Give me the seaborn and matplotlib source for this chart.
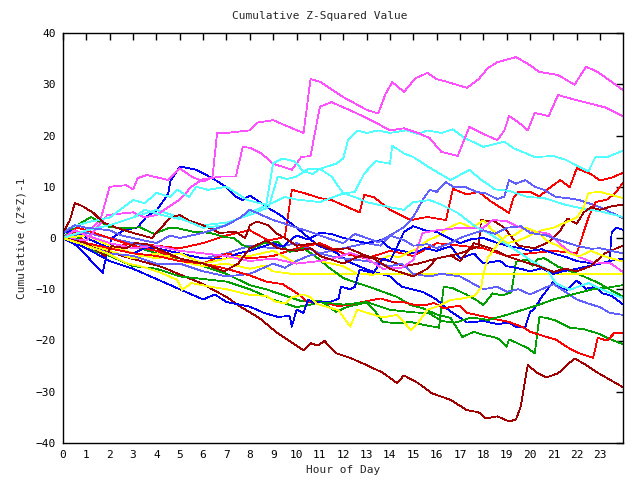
import matplotlib
matplotlib.use("Agg")
import matplotlib.pyplot as plt
import seaborn as sns
import pandas as pd

E = 23.97  # last sample hour

# ---- series: (hour, cumulative value) pairs ----
m1 = [(0,0),(1,1),(1.6,3.5),(2,10),(2.7,10.3),(3,9.5),(3.2,11.7),(3.6,12.3),(4.5,11.3),(5,13.6),(5.5,12),(6,11),(6.4,11.9),(6.6,20.5),(7,20.5),(8,21),(8.3,22.5),(9,23),(9.5,22),(10.3,20.5),(10.6,31),(11,30.5),(11.5,29),(12,27.5),(13,25),(13.5,24.3),(13.8,28),(14.1,30.4),(14.6,28.5),(15.1,31.2),(15.6,32.2),(16,31),(16.5,30.4),(17.3,29.3),(17.8,31),(18.2,33.2),(18.6,34.3),(19.4,35.3),(19.9,34),(20.4,32.4),(21.2,31.8),(21.9,29.9),(22.4,33.4),(22.9,32.4),(E,28.9)]
m2 = [(0,0),(1,-0.5),(1.9,4.5),(3,5),(3.5,4),(4,4.5),(5,7.5),(5.5,10),(6,11.5),(6.8,12),(7.4,12),(7.7,17.8),(8,17.6),(8.5,16.5),(9,14.5),(9.8,13.3),(10.2,15.8),(10.6,16),(11,25.6),(11.5,26.5),(12,25.5),(12.5,24.5),(13.4,22.5),(14,21),(14.6,21.4),(15.2,20.5),(15.7,19.5),(16.2,16.8),(16.9,16),(17.4,21.7),(17.9,20.5),(18.6,19.1),(18.9,21),(19.1,23.8),(19.5,22.6),(19.9,21),(20.2,24.4),(20.8,23.8),(21.2,27.9),(21.9,27),(22.5,26.3),(23.2,25.5),(E,23.8)]
m3 = [(0,0),(0.5,1.5),(1,0.5),(2,-1),(3,-2),(4,-1.5),(5,-2.5),(6,-3),(7,-3.5),(8,-4.5),(9,-4),(10,-5),(11,-4.5),(11.8,-3.7),(12.3,-2.9),(13,-4),(13.7,-6),(14.5,-5.8),(15,-4.3),(15.4,1),(16,1.5),(17,2),(18,2),(18.4,3.5),(19,3.3),(19.5,2.2),(20,1.5),(20.8,0.8),(21.5,-2),(22,-3.5),(22.8,-5),(23.4,-4.8),(E,-6.6)]

c1 = [(0,0),(1,1.5),(2,2.5),(3,4),(4,5.5),(5,4),(6,2.5),(7,3),(8,4.5),(8.8,6),(9.2,12),(9.6,11.5),(10,12),(10.5,13.5),(11,13.5),(11.7,14.5),(12,15.5),(12.2,19.1),(12.6,21),(13,20.5),(13.5,21),(14,20.5),(14.7,21),(15.2,20.3),(15.6,21),(16.2,20.5),(16.7,21.2),(17.2,19.5),(18,17.8),(18.9,18.8),(19.3,17.5),(20.2,15.8),(21,16),(21.5,15.3),(22.5,13),(22.8,15.8),(23.3,15.8),(E,17)]
c2 = [(0,1.5),(1,3),(2,4),(3,7.4),(3.5,6.8),(4,8.8),(4.6,8),(4.9,9.4),(5.4,8),(5.7,10),(6.2,9.4),(7,10),(7.9,7.4),(8.7,6.5),(9,14.6),(9.4,15.5),(9.9,15),(10.3,13),(10.7,12.5),(11,13.5),(11.5,12),(12,8.7),(12.5,9),(12.9,12.6),(13.4,15),(14,14.5),(14.1,18),(14.6,16.5),(15,15.8),(15.6,14),(16.6,11.3),(17.4,13.3),(17.9,11.4),(18.5,9.5),(19.1,9.2),(19.9,8),(20.6,7.8),(21.5,6.5),(22.4,5.6),(23,5.2),(E,4.1)]
c3 = [(0,0),(1,1.5),(2,2.5),(3,4),(3.5,5.5),(4.2,4.5),(5.2,3.5),(6,2),(7,2.5),(8,5),(8.8,6.5),(9.5,8),(10,7.5),(11,7),(12,8.7),(12.5,8),(13,7),(14,6),(14.6,5.5),(15,7),(15.7,7.4),(16.2,6.5),(16.9,4.9),(17.7,2.1),(18.2,1),(18.9,-1),(19.6,-3),(20.1,-4.6),(20.7,-6),(21.1,-8.8),(21.7,-10.1),(22.5,-8.8),(23.3,-10.5),(E,-11.7)]

r1 = [(0,0),(0.5,1),(1,-1),(2,-2),(3,-1),(4,-1.5),(5,-2),(6,-1),(7,0.5),(8,1.5),(8.8,-0.5),(9.5,0.2),(9.8,9.4),(10.3,8.8),(11,7.8),(11.5,7.4),(12.7,5),(12.9,8.4),(13.3,8),(14,5.5),(14.9,3.5),(15.6,4.1),(16.4,3.5),(16.7,9.6),(17.3,8.5),(17.8,9),(18.3,7.2),(19.1,4.9),(19.3,8),(19.5,9),(20,9),(20.4,8.1),(20.9,10),(21.3,11.3),(21.7,9.9),(22,13.6),(22.6,12.5),(23,11.2),(23.5,11.8),(E,12.7)]
r2 = [(0,0),(0.6,2),(1,1.5),(2,0),(3,-1.5),(4,-2.5),(5,-4),(6,-5),(7,-3),(8,-4),(9,-3.5),(10,-2),(11,-1),(12,-3),(13,-4),(14,-2.5),(15,-3.5),(16,-1),(17,-1.5),(18,-2),(19,-3.5),(20,-3),(21,-2.5),(22,-3),(22.5,4),(22.8,7),(23.3,7.5),(23.7,9),(E,10.8)]
r3 = [(0,0),(1,-1),(2,-2),(3,-3),(4,-3.5),(5,-4.5),(6,-5),(7,-6),(8,-7.3),(8.7,-8.5),(9.4,-9),(10.1,-11),(10.5,-12.6),(11,-12.4),(11.8,-13.3),(12.3,-13),(12.7,-12.6),(13.6,-11.8),(14.2,-12.6),(14.5,-12.4),(15,-13),(15.6,-13),(15.9,-12.7),(16.3,-13.7),(17,-13.2),(17.3,-14.6),(17.9,-15.2),(18.6,-15.9),(19.1,-16.4),(19.7,-17.4),(20,-18.3),(20.7,-19.3),(21.1,-19.8),(21.6,-21.3),(22,-22.3),(22.7,-23.4),(22.9,-19.5),(23.3,-20),(23.6,-18.6),(E,-18.6)]

d1 = [(0,0),(1.3,-1.7),(2.7,-3.7),(4.2,-5.6),(5.9,-8.8),(7,-11.5),(7.6,-13.4),(8.4,-15.6),(9.2,-18.6),(10.3,-21.9),(10.6,-20.5),(10.9,-21),(11.2,-20.1),(11.7,-22.5),(12.3,-23.4),(13,-24.8),(13.7,-26.3),(14.3,-28.3),(14.6,-26.8),(15.2,-28.3),(15.8,-30.3),(16.6,-31.6),(17.3,-33.6),(17.8,-34),(18.1,-35.2),(18.6,-34.8),(19.1,-35.8),(19.4,-35.4),(19.6,-32.9),(19.9,-24.8),(20.3,-26.3),(20.7,-27.2),(21.2,-26.4),(21.9,-23.5),(22.3,-24.5),(22.9,-26.3),(23.4,-27.6),(E,-29.1)]
d2 = [(0,1),(0.3,3.5),(0.5,6.8),(0.8,6.3),(1.3,4.9),(1.7,3.1),(2.3,2),(3,1),(3.8,0),(4.3,2.5),(4.6,4),(5,4.5),(5.4,3.4),(6,2.5),(6.7,1),(7.4,1.2),(7.8,0),(8,2.5),(8.3,3.2),(8.8,2.5),(9.1,1),(9.5,0),(10,-1.5),(10.8,-1),(11.5,-2.3),(12.2,-2),(13,-3.5),(14,-4.5),(14.6,-5.5),(15.2,-5),(16,-4),(17,-3),(17.8,-1.6),(17.9,3.5),(18.5,3.2),(18.9,2),(19.5,-1.5),(20.2,-2),(20.8,-0.8),(21.3,1.5),(21.6,3.8),(22,2.8),(22.3,5),(22.6,6),(23,5.5),(23.5,6.2),(E,6.5)]
d3 = [(0,0),(1,-1),(1.8,-3.5),(2.1,-1.6),(2.7,-2),(3.1,-1),(3.6,-1.2),(4.5,-3),(5,-4),(6,-5),(6.9,-6.5),(7.5,-5),(8,-2),(8.7,-0.5),(9.2,-2),(10,-2.5),(10.6,-2),(11,-3.5),(12,-5),(12.7,-3.5),(13.3,-4),(14,-6),(15,-7.5),(15.6,-6),(16,-4),(16.6,-3.4),(17,-4.5),(17.6,-1),(18.3,-2),(19,-3.5),(19.7,-4.6),(20.3,-5.4),(21,-6.6),(21.5,-6),(22,-6.5),(22.6,-5.5),(23.2,-3),(E,-1.5)]

g1 = [(0,0),(0.5,-0.5),(1,1),(2,0),(3,-1.5),(4,-3),(5,-4),(6,-5.5),(7,-7),(8,-9.2),(8.7,-10),(9.4,-11.1),(10.2,-12.3),(11,-12.2),(11.7,-14.4),(12.2,-13.4),(13,-12.6),(13.4,-14.5),(13.7,-16.4),(14.3,-16.6),(14.9,-16.4),(15.5,-17),(16.1,-17.5),(16.3,-9.5),(16.7,-9.8),(17.3,-11.1),(17.7,-12.1),(18,-13.1),(18.4,-10.8),(18.8,-11.2),(19.2,-10.6),(19.4,-4.6),(19.9,-4.2),(20.1,-5.4),(20.3,-4.2),(20.6,-3.9),(21.2,-5.6),(21.8,-6.6),(22.3,-7.5),(22.9,-8.7),(23.4,-10),(E,-11.4)]
g2 = [(0,0),(0.4,1.9),(1.2,4.1),(1.6,3.1),(2,2.1),(2.7,1.9),(3.3,2.1),(3.9,0.8),(4.5,1.9),(4.9,1.9),(5.6,1.2),(6.3,1),(6.9,0.2),(7.3,0),(7.7,-1.4),(8.1,-2),(8.6,-1),(9.2,-0.8),(9.7,-2.7),(10.3,-2),(10.9,-3.9),(11.4,-5.8),(12,-7.8),(12.6,-8.8),(13.1,-9.5),(13.7,-10.5),(14.3,-11.5),(14.9,-13.1),(15.4,-13.7),(16,-14.9),(16.6,-15.6),(17.1,-19.3),(17.6,-18.3),(18,-18.9),(18.6,-19.5),(19,-21.2),(19.1,-19.8),(19.4,-20.4),(19.9,-21.5),(20.2,-22.5),(20.3,-19),(20.4,-15.4),(20.7,-15.6),(21.1,-16.1),(21.5,-17),(21.7,-17.5),(22.3,-17.8),(22.9,-18.6),(23.4,-19.7),(E,-20.7)]
g3 = [(0,0),(1,-2),(2,-3.5),(3,-5.5),(4,-6),(5,-7.5),(6,-8),(7,-8.5),(8,-10),(9,-12),(10,-13.5),(10.6,-13),(11,-12.5),(12,-13),(13,-12.5),(14,-14),(15,-14.5),(15.7,-14.7),(16.2,-16.2),(16.8,-16.5),(17.5,-15.5),(18.2,-16),(19,-15),(19.7,-14),(20.4,-13),(21,-12),(22,-10.8),(22.7,-10),(23.3,-9.7),(E,-9.2)]

b1 = [(0,0),(0.6,-1.5),(1.3,-4.9),(1.7,-6.8),(1.9,-2.5),(2.1,0),(2.6,1.5),(3.2,2.1),(3.6,4.3),(4,5.3),(4.5,8.6),(4.6,11.1),(5,13.9),(5.3,13.7),(5.7,13.3),(6.1,12.4),(6.6,11.1),(7,9.9),(7.4,8.1),(7.7,7.4),(8,8.3),(8.3,7.4),(8.8,5.8),(9.3,4.5),(10,2),(10.9,-1.4),(11.7,-2.9),(12.3,-4.8),(13.1,-6.3),(14,-7.5),(14.5,-9.5),(15.4,-10.5),(16,-12),(16.5,-14),(17.3,-16.5),(18,-16.2),(18.6,-16.8),(19.1,-16.5),(19.4,-17.4),(19.8,-17.3),(20,-14.5),(20.2,-13.7),(20.5,-11.5),(21,-8.5),(21.3,-9.8),(21.6,-10.1),(22,-8.3),(22.4,-9.9),(22.8,-9.5),(23.1,-10.8),(23.5,-11.3),(E,-12.9)]
b2 = [(0,1),(0.5,1.5),(1,0),(2,-2),(3,-3),(3.6,-1.8),(4,-2),(5,-3),(6,-4),(7,-4),(7.5,-3),(8,-2.5),(9,-1),(9.4,-1.7),(10,0.5),(10.5,-0.3),(11,1),(11.5,0.8),(12,0),(13,-1),(13.6,-0.4),(14,-2),(15,-3),(15.5,-2),(16,-2.5),(16.6,-1.6),(17,-4),(17.6,-3),(18,-5),(18.7,-4.4),(19,-5.5),(19.6,-6),(20,-6.5),(20.5,-5.9),(21,-7),(21.4,-6.5),(22,-6),(22.5,-5.5),(23,-5),(23.5,-4.4),(E,-4)]
b3 = [(0,0),(1,-2),(2,-4.5),(3,-6),(4,-8),(5,-10),(6,-12),(6.5,-11),(7,-12.5),(8,-13.4),(8.6,-14.6),(9.2,-15.4),(9.7,-15.2),(9.8,-17.3),(10,-14),(10.3,-14.6),(10.5,-12),(10.8,-12.8),(11,-12.4),(11.5,-12.4),(11.8,-11.8),(11.9,-9.5),(12.3,-10),(12.5,-9.5),(12.7,-6.2),(13.3,-6.8),(13.7,-4),(14,-4.5),(14.3,-1.8),(14.6,1.2),(15,2.3),(15.5,1.5),(16,1.2),(16.5,0),(17,-1),(17.5,-0.2),(18,0),(18.5,-0.8),(19,-1.5),(19.6,-2),(20,-2.5),(20.5,-2.2),(21,-3),(21.6,-3.8),(22,-4.5),(22.6,-4.9),(23,-5),(23.4,-4.5),(23.5,1.2),(23.7,2),(E,1.6)]

l1 = [(0,0),(1,1),(2,0),(3,-1),(4,-2),(5,-3),(6,-4),(7,-3),(8,-1.5),(9,-2),(10,-1),(11,-3),(12,-2),(13,-1),(13.6,-1.5),(14,0.5),(14.6,2.1),(15,4.1),(15.4,7.4),(15.7,9.4),(16,9),(16.4,10.9),(16.7,10),(17.2,10),(17.7,9),(18.1,8.7),(18.6,7.6),(18.9,8.1),(19.1,11.3),(19.4,10.6),(19.8,11.3),(20.2,10),(20.6,9.4),(21.1,8),(21.6,7.8),(22.1,7.4),(22.5,6.8),(23,6),(E,3.9)]
l2 = [(0,0),(0.6,-0.5),(1,-1.5),(2,-3),(3,-3.5),(4,-5),(5,-5),(6,-6.5),(7,-7.5),(8,-7),(8.5,-6),(9,-5),(9.5,-5.8),(10,-4.5),(10.5,-3.5),(11,-3),(11.5,-3.6),(12,-4),(13,-4.5),(14,-5.5),(14.5,-5),(15,-7),(15.7,-7.5),(16.2,-7),(17,-7.5),(17.6,-9),(18,-10),(18.6,-9.5),(19,-10.5),(19.5,-10),(20,-11),(20.4,-10.2),(21,-9),(21.5,-10.5),(22,-12),(22.5,-12.8),(23,-13.5),(23.4,-14.6),(E,-15)]
l3 = [(0,1),(0.5,2.5),(1,2),(2,1.5),(2.5,0.5),(3,0),(4,-1),(4.6,0.5),(5,0),(6,1),(7,2.5),(7.6,4),(8,5.5),(8.5,4.5),(9,3.5),(9.5,2.8),(10,2),(10.6,1.2),(11,0.5),(11.5,-0.3),(12,-1),(12.5,0.8),(13,0),(13.5,-0.8),(14,0.5),(14.6,-0.4),(15,-1.5),(15.6,-1.2),(16,-2),(16.6,-1),(17,0),(17.5,0.8),(18,1.5),(18.5,0.8),(19,2),(19.6,2.3),(20,1),(20.7,0.5),(21,0),(21.5,-0.8),(22,-1.5),(22.6,-2.1),(23,-2),(E,-3)]

y1 = [(0,0),(1,-1),(2,-2.5),(3,-4),(4,-3),(5,-4.5),(6,-5.5),(7,-5),(8,-6),(8.6,-5.4),(9,-6.5),(9.8,-7),(E,-7)]
y2 = [(0,0),(1,0.5),(2,-1.5),(3,-3),(4,-4),(5,-3),(6,-5),(7,-4),(8,-3.5),(9,-2.5),(10,-5),(11,-4.5),(12,-5.5),(12.6,-7),(13.3,-7.2),(13.7,-4),(14,-3.4),(14.4,-3.8),(14.8,-2.8),(15.2,-2),(15.6,-0.5),(16.1,0.5),(16.5,2),(17,3),(17.5,2),(18,3.4),(18.4,1.5),(19,-1),(19.5,-0.5),(20,0.5),(20.5,1.5),(21,2),(21.5,3),(22,4),(22.3,6),(22.5,8.8),(23,9),(23.4,8.5),(E,7.8)]
y3 = [(0,0),(1,-1.5),(1.9,-3),(2.7,-4.9),(3.4,-5.6),(4.2,-6.8),(4.9,-8.2),(5.1,-10.1),(5.5,-8.8),(6.3,-9.5),(7,-10),(8,-11.1),(8.7,-11.3),(9.1,-12.4),(9.5,-12.8),(9.8,-11.6),(10.3,-11),(10.6,-11.6),(10.9,-12.9),(11.8,-14.1),(12.3,-17.3),(12.6,-14),(13.1,-14.7),(13.7,-15.5),(14.3,-15),(14.9,-17.9),(15.2,-16.6),(15.6,-14),(16,-13.4),(16.6,-12.1),(17.1,-11.8),(17.6,-11.3),(17.9,-9.8),(18,-7),(18.2,-3.8),(18.6,-1.3),(19,0.5),(19.3,0.5),(19.8,2),(20.3,1.2),(20.8,-0.8),(21.2,-1.5),(21.7,-3),(22.1,-3.6),(22.6,-2.5),(23.2,-3.6),(E,-4.6)]

RED, DRED, GREEN, BLUE, LBLUE = "#ff0000", "#a00000", "#00a000", "#0000ff", "#6060ff"
MAG, CYAN, YEL = "#ff50ff", "#50ffff", "#ffff00"

series = [
    ("r1", r1, RED), ("g1", g1, GREEN), ("b1", b1, BLUE), ("m1", m1, MAG),
    ("c1", c1, CYAN), ("d1", d1, DRED), ("y1", y1, YEL), ("l1", l1, LBLUE),
    ("r2", r2, RED), ("g2", g2, GREEN), ("b2", b2, BLUE), ("m2", m2, MAG),
    ("c2", c2, CYAN), ("d2", d2, DRED), ("y2", y2, YEL), ("l2", l2, LBLUE),
    ("r3", r3, RED), ("g3", g3, GREEN), ("b3", b3, BLUE), ("m3", m3, MAG),
    ("c3", c3, CYAN), ("d3", d3, DRED), ("y3", y3, YEL), ("l3", l3, LBLUE),
]

rows = []
for name, pts, _ in series:
    for h, v in pts:
        rows.append((name, h, v))
df = pd.DataFrame(rows, columns=["series", "hour", "value"])
palette = {name: col for name, _, col in series}
order = [name for name, _, _ in series]

sns.set_style("white")
plt.rcParams["font.family"] = ["DejaVu Sans Mono"]

fig = plt.figure(figsize=(6.4, 4.8), dpi=100)
ax = fig.add_axes([63/640, 37/480, 560/640, 410/480])

sns.lineplot(data=df, x="hour", y="value", hue="series", hue_order=order,
             palette=palette, units="series", estimator=None, sort=False,
             linewidth=0.55, antialiased=False, legend=False, ax=ax)

ax.set_xlim(0, 23.98)
ax.set_ylim(-40, 40)
ax.set_xticks(range(0, 24))
ax.set_yticks(range(-40, 41, 10))
ax.tick_params(direction="in", length=5, width=1, top=True, right=True,
               labelsize=8, colors="black", pad=5)
for s in ax.spines.values():
    s.set_color("black")
    s.set_linewidth(1)
ax.set_xlabel("")
ax.set_ylabel("")

fig.text(0.5, 1 - 16/480, "Cumulative Z-Squared Value", ha="center", va="center", fontsize=8)
fig.text(343/640, 1 - 470/480, "Hour of Day", ha="center", va="center", fontsize=8)
fig.text(22/640, 1 - 238/480, "Cumulative (Z*Z)-1", ha="center", va="center",
         rotation=90, fontsize=8)

fig.savefig("out.png", dpi=100, facecolor="white")
